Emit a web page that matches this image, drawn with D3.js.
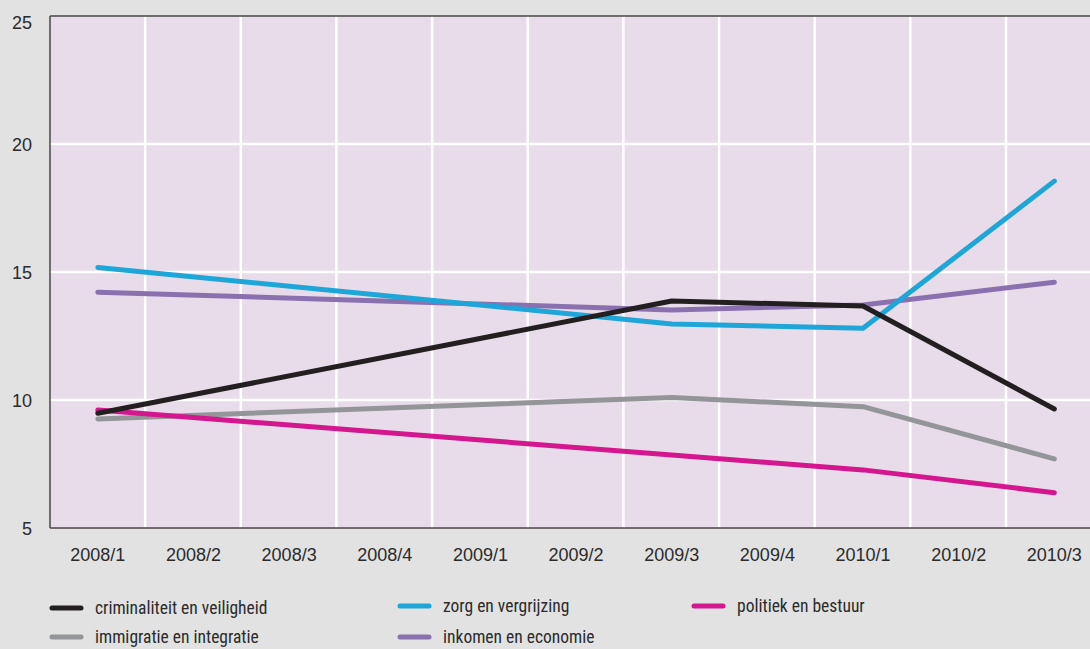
<!DOCTYPE html>
<html><head><meta charset="utf-8">
<script src="https://cdn.jsdelivr.net/npm/d3@7"></script>
<style>
html,body{margin:0;padding:0;background:#e1e2e1;}
svg{display:block;}
text{font-family:"Liberation Sans","Arial",sans-serif;fill:#2b2b2b;}
.leg{font-family:"Liberation Sans Narrow","Arial Narrow","Roboto Condensed",sans-serif;}
</style></head><body>
<svg id="chart" width="1090" height="649"></svg>
<script>
const categories = ["2008/1","2008/2","2008/3","2008/4","2009/1","2009/2","2009/3","2009/4","2010/1","2010/2","2010/3"];
const measuredAt = ["2008/1","2009/3","2010/1","2010/3"];
const yTicks = [5,10,15,20,25];
const seriesNames = ["criminaliteit en veiligheid","immigratie en integratie","zorg en vergrijzing","inkomen en economie","politiek en bestuur"];
const criminaliteit = [9.48, 13.87, 13.67, 9.65];
const immigratie = [9.26, 10.1, 9.74, 7.7];
const zorg = [15.18, 12.97, 12.8, 18.55];
const inkomen = [14.21, 13.52, 13.71, 14.6];
const politiek = [9.61, 7.85, 7.27, 6.38];
const colors = ["#231f20","#939598","#1ea6d8","#8b70b0","#d4168f"];

const series = [
  {name: seriesNames[0], values: criminaliteit, color: colors[0]},
  {name: seriesNames[1], values: immigratie, color: colors[1]},
  {name: seriesNames[2], values: zorg, color: colors[2]},
  {name: seriesNames[3], values: inkomen, color: colors[3]},
  {name: seriesNames[4], values: politiek, color: colors[4]}
];

const svg = d3.select("#chart");
const mLeft = 50, mTop = 16, mBottom = 528, bandW = 95.65;
const x = d3.scaleBand().domain(categories).range([mLeft, mLeft + bandW*categories.length]).padding(0);
const y = d3.scaleLinear().domain([5,25]).range([mBottom, mTop]);

// plot background
svg.append("rect").attr("x", mLeft).attr("y", mTop).attr("width", 1090-mLeft).attr("height", mBottom-mTop).attr("fill","#e8dbea");

// gridlines
const g = svg.append("g");
g.selectAll(".vg").data(categories.slice(1)).enter().append("line")
  .attr("x1", d=>x(d)-0.5).attr("x2", d=>x(d)-0.5).attr("y1", mTop).attr("y2", mBottom)
  .attr("stroke","#fff").attr("stroke-width",2.5);
g.selectAll(".hg").data(yTicks.filter(t=>t>5 && t<25)).enter().append("line")
  .attr("x1", mLeft).attr("x2", 1090).attr("y1", d=>y(d)).attr("y2", d=>y(d))
  .attr("stroke","#fff").attr("stroke-width",2.5);

// frame
svg.append("line").attr("x1",mLeft).attr("x2",1090).attr("y1",mTop).attr("y2",mTop).attr("stroke","#4a4547").attr("stroke-width",1.5);
svg.append("line").attr("x1",mLeft).attr("x2",1090).attr("y1",mBottom).attr("y2",mBottom).attr("stroke","#4a4547").attr("stroke-width",1.5);
svg.append("line").attr("x1",mLeft).attr("x2",mLeft).attr("y1",mTop).attr("y2",mBottom).attr("stroke","#4a4547").attr("stroke-width",1.5);

// y axis labels
const yAxis = d3.axisLeft(y).tickValues(yTicks).tickSize(0).tickPadding(0).tickFormat(d3.format("d"));
const ya = svg.append("g").attr("transform", `translate(${mLeft-18},0)`).call(yAxis);
ya.select(".domain").remove();
ya.selectAll("text").attr("font-size","18px").attr("font-family",null).style("fill","#2b2b2b")
  .attr("dy", d => d === 25 ? "0.7em" : "0.35em");

// x axis labels
const xAxis = d3.axisBottom(x).tickSize(0).tickPadding(0);
const xa = svg.append("g").attr("transform", `translate(0,${mBottom+27})`).call(xAxis);
xa.select(".domain").remove();
xa.selectAll("text").attr("font-size","18px").attr("font-family",null).style("fill","#2b2b2b").attr("dy","0.35em");

// lines
const line = d3.line().x((d,i)=>x(measuredAt[i]) + x.bandwidth()/2).y(d=>y(d));
const drawOrder = [3,1,4,2,0];
drawOrder.forEach(k=>{
  svg.append("path").datum(series[k].values).attr("d", line)
    .attr("fill","none").attr("stroke", series[k].color).attr("stroke-width",5)
    .attr("stroke-linecap","round").attr("stroke-linejoin","round");
});

// legend
const legendPos = [[50,608],[50,637],[398,606],[398,637],[692,606]];
series.forEach((s,i)=>{
  const [lx,ly] = legendPos[i];
  svg.append("line").attr("x1",lx+2).attr("x2",lx+31).attr("y1",ly).attr("y2",ly)
    .attr("stroke",s.color).attr("stroke-width",5).attr("stroke-linecap","round");
  svg.append("text").attr("class","leg").attr("x",lx+45).attr("y",ly).attr("dy","0.35em").attr("font-size","17.5px").text(s.name);
});
</script>
</body></html>
